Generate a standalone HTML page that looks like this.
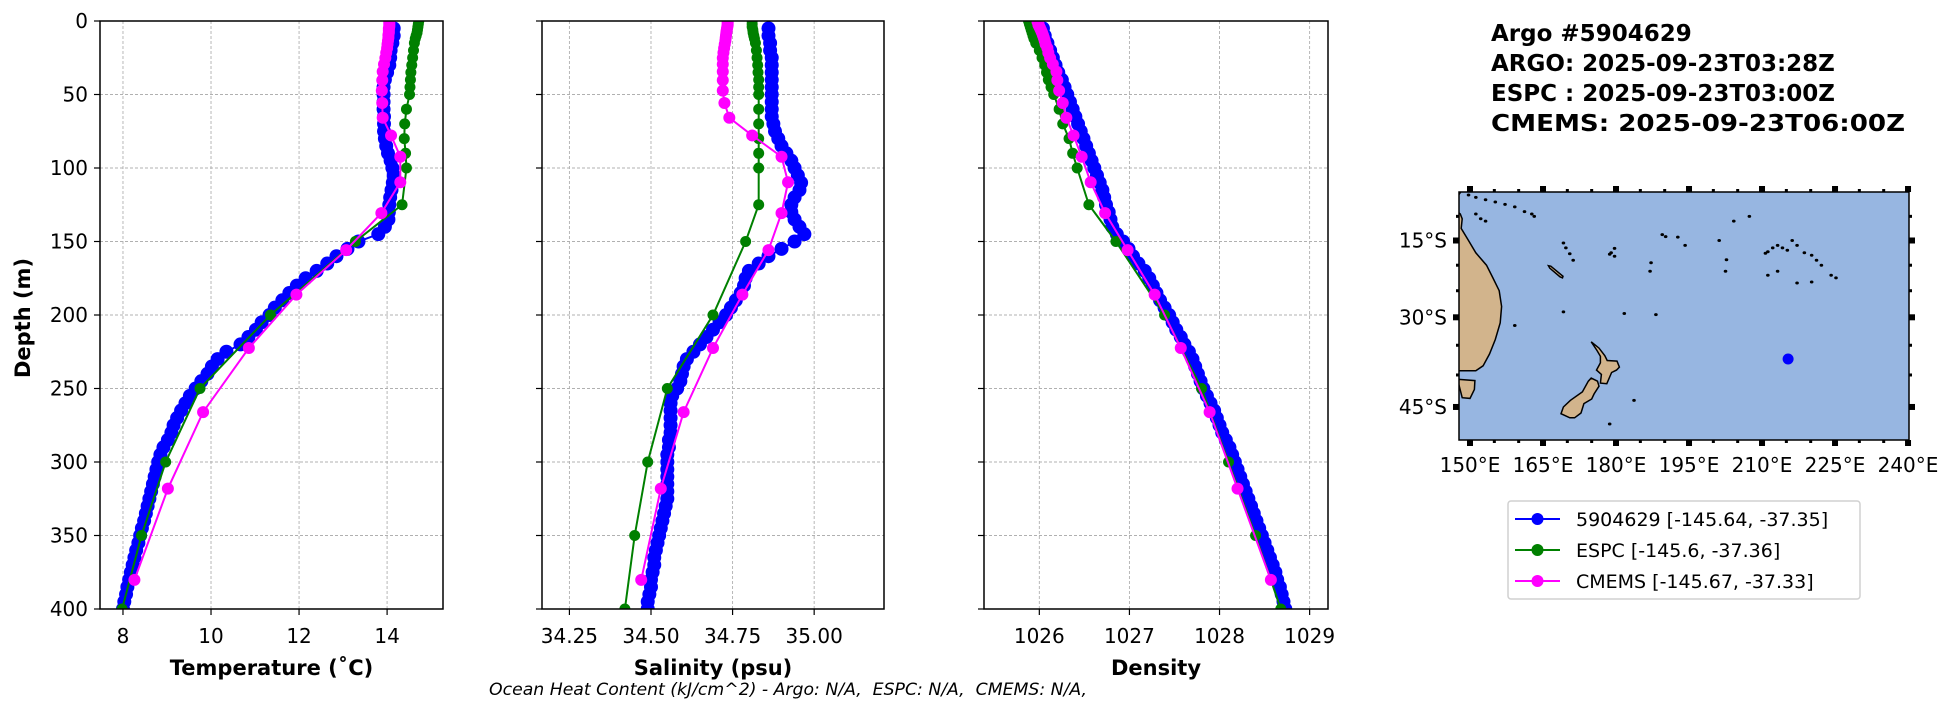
<!DOCTYPE html>
<html><head><meta charset="utf-8"><style>
html,body{margin:0;padding:0;background:#fff;}
svg{display:block;font-family:"DejaVu Sans","Liberation Sans",sans-serif;}
</style></head><body>
<svg id="fig" width="1954" height="712" viewBox="0 0 1954 712" xmlns="http://www.w3.org/2000/svg">
<g id="title" font-weight="bold" font-size="23" fill="#000">
<text x="1491" y="41">Argo #5904629</text>
<text x="1491" y="71">ARGO: 2025-09-23T03:28Z</text>
<text x="1491" y="101">ESPC : 2025-09-23T03:00Z</text>
<text x="1491" y="131" textLength="414" lengthAdjust="spacingAndGlyphs">CMEMS: 2025-09-23T06:00Z</text>
</g>
<text x="489" y="695" xml:space="preserve" font-style="italic" font-size="17" textLength="598" lengthAdjust="spacingAndGlyphs">Ocean Heat Content (kJ/cm^2) - Argo: N/A,  ESPC: N/A,  CMEMS: N/A,</text>
</svg>
<script>
const depthTicks=[0,50,100,150,200,250,300,350,400];
const tempTicks=[8,10,12,14];
const tempTickLabels=["8","10","12","14"];
const salTicks=[34.25,34.5,34.75,35.0];
const salTickLabels=["34.25","34.50","34.75","35.00"];
const densTicks=[1026,1027,1028,1029];
const densTickLabels=["1026","1027","1028","1029"];

const argoDepth=[5,10,15,20,25,30,35,40,45,50,55,60,65,70,75,80,85,90,95,100,105,110,115,120,125,130,135,140,145,150,155,160,165,170,175,180,185,190,195,200,205,210,215,220,225,230,235,240,245,250,255,260,265,270,275,280,285,290,295,300,305,310,315,320,325,330,335,340,345,350,355,360,365,370,375,380,385,390,395,400];
const argoTemp=[14.15,14.15,14.12,14.08,14.07,14.05,14.0,13.95,13.92,13.92,13.92,13.92,13.93,13.93,13.93,13.95,13.98,14.02,14.08,14.12,14.15,14.13,14.1,14.07,14.05,14.04,14.03,13.95,13.8,13.35,13.1,12.85,12.64,12.4,12.15,11.95,11.78,11.62,11.45,11.33,11.15,11.02,10.85,10.67,10.35,10.15,10.02,9.92,9.78,9.65,9.52,9.42,9.32,9.23,9.15,9.1,9.02,8.92,8.85,8.8,8.76,8.72,8.68,8.64,8.6,8.56,8.52,8.48,8.43,8.39,8.35,8.3,8.26,8.22,8.18,8.14,8.1,8.07,8.03,8.0];
const argoSal=[34.86,34.86,34.865,34.865,34.87,34.87,34.87,34.87,34.87,34.87,34.87,34.87,34.87,34.875,34.88,34.89,34.9,34.915,34.93,34.94,34.95,34.96,34.955,34.94,34.93,34.93,34.94,34.955,34.97,34.94,34.9,34.86,34.83,34.8,34.79,34.785,34.775,34.76,34.745,34.73,34.71,34.69,34.67,34.65,34.63,34.61,34.6,34.595,34.59,34.58,34.565,34.56,34.56,34.56,34.56,34.56,34.555,34.555,34.55,34.55,34.55,34.55,34.55,34.55,34.55,34.545,34.54,34.535,34.53,34.525,34.52,34.515,34.51,34.51,34.505,34.5,34.5,34.495,34.49,34.49];
const argoDens=[1026.04,1026.06,1026.09,1026.12,1026.15,1026.18,1026.21,1026.25,1026.28,1026.31,1026.34,1026.37,1026.40,1026.43,1026.46,1026.49,1026.52,1026.55,1026.58,1026.61,1026.64,1026.67,1026.70,1026.72,1026.74,1026.77,1026.79,1026.81,1026.86,1026.93,1026.99,1027.04,1027.1,1027.17,1027.22,1027.26,1027.3,1027.34,1027.39,1027.44,1027.48,1027.52,1027.57,1027.61,1027.66,1027.7,1027.73,1027.76,1027.79,1027.82,1027.86,1027.9,1027.94,1027.97,1028.0,1028.03,1028.07,1028.11,1028.14,1028.17,1028.2,1028.23,1028.26,1028.29,1028.32,1028.35,1028.38,1028.41,1028.44,1028.47,1028.5,1028.53,1028.56,1028.59,1028.62,1028.64,1028.67,1028.69,1028.71,1028.73];

const espcDepth=[0,2,4,6,8,10,12,15,20,25,30,35,40,45,50,60,70,80,90,100,125,150,200,250,300,350,400];
const espcTemp=[14.72,14.71,14.70,14.69,14.68,14.66,14.64,14.62,14.6,14.58,14.56,14.54,14.53,14.52,14.51,14.44,14.40,14.39,14.42,14.44,14.34,13.28,11.35,9.75,8.97,8.42,7.98];
const espcSal=[34.81,34.81,34.81,34.812,34.813,34.815,34.817,34.82,34.823,34.825,34.827,34.828,34.83,34.83,34.83,34.83,34.83,34.83,34.83,34.83,34.83,34.79,34.69,34.55,34.49,34.45,34.42];
const espcDens=[1025.88,1025.89,1025.90,1025.91,1025.92,1025.93,1025.94,1025.96,1026.0,1026.03,1026.06,1026.08,1026.10,1026.13,1026.16,1026.22,1026.26,1026.33,1026.37,1026.42,1026.55,1026.85,1027.39,1027.80,1028.10,1028.40,1028.68];

const cmemsDepth=[0.49,1.54,2.65,3.82,5.08,6.44,7.93,9.57,11.4,13.47,15.81,18.5,21.6,25.21,29.44,34.43,40.34,47.37,55.76,65.81,77.85,92.33,109.7,130.67,155.85,186.13,222.48,266.04,318.13,380.21];
const cmemsTemp=[14.05,14.05,14.05,14.05,14.04,14.04,14.04,14.03,14.03,14.02,14.01,14.0,13.98,13.96,13.93,13.9,13.89,13.88,13.89,13.9,14.09,14.3,14.3,13.87,13.07,11.94,10.86,9.82,9.02,8.26];
const cmemsSal=[34.735,34.735,34.735,34.734,34.733,34.732,34.731,34.73,34.729,34.728,34.726,34.724,34.722,34.72,34.72,34.72,34.72,34.72,34.725,34.74,34.81,34.90,34.92,34.90,34.86,34.78,34.69,34.60,34.53,34.47];
const cmemsDens=[1025.98,1025.99,1025.99,1026.0,1026.01,1026.02,1026.03,1026.04,1026.05,1026.06,1026.07,1026.09,1026.1,1026.12,1026.15,1026.19,1026.2,1026.22,1026.26,1026.3,1026.38,1026.47,1026.57,1026.73,1026.98,1027.28,1027.57,1027.89,1028.20,1028.57];

const legendLabels=["5904629 [-145.64, -37.35]","ESPC [-145.6, -37.36]","CMEMS [-145.67, -37.33]"];
const floatLon=[214.36];
const floatLat=[-37.35];
const mapLonTicks=[150,165,180,195,210,225,240];
const mapLatTicks=[-15,-30,-45];

const NS="http://www.w3.org/2000/svg";
const svg=document.getElementById('fig');
function mk(tag,attrs,parent){const e=document.createElementNS(NS,tag);for(const k in attrs)e.setAttribute(k,attrs[k]);(parent||svg).appendChild(e);return e;}

const TOP=21,BOT=609;
function yDepth(d){return TOP+(d/400)*(BOT-TOP);}

const panels=[
 {name:'temperature',x0:100,x1:443,min:7.478,max:15.27,ticks:tempTicks,labels:tempTickLabels,title:'Temperature (˚C)',series:[argoTemp,espcTemp,cmemsTemp],yl:true},
 {name:'salinity',x0:542,x1:884,min:34.166,max:35.214,ticks:salTicks,labels:salTickLabels,title:'Salinity (psu)',series:[argoSal,espcSal,cmemsSal],yl:false},
 {name:'density',x0:984,x1:1328,min:1025.386,max:1029.204,ticks:densTicks,labels:densTickLabels,title:'Density',series:[argoDens,espcDens,cmemsDens],yl:false}
];
const depths=[argoDepth,espcDepth,cmemsDepth];
const colors=['#0000ff','#008000','#ff00ff'];
const radii=[7,5.5,6];
const snames=['argo','espc','cmems'];

panels.forEach(p=>{
  const g=mk('g',{});
  
  
  const xs=v=>p.x0+(v-p.min)/(p.max-p.min)*(p.x1-p.x0);
  const cid='clip-'+p.name;
  const cp=mk('clipPath',{id:cid},g);mk('rect',{x:p.x0,y:TOP,width:p.x1-p.x0,height:BOT-TOP},cp);
  depthTicks.forEach(d=>{const l=mk('line',{x1:p.x0,x2:p.x1,y1:yDepth(d),y2:yDepth(d),stroke:'#b0b0b0','stroke-width':0.9,'stroke-dasharray':'3,2'},g);
    });
  p.ticks.forEach(t=>{const l=mk('line',{x1:xs(t),x2:xs(t),y1:TOP,y2:BOT,stroke:'#b0b0b0','stroke-width':0.9,'stroke-dasharray':'3,2'},g);
    });
  const sg=mk('g',{'clip-path':'url(#'+cid+')'},g);
  p.series.forEach((vals,si)=>{
    const pts=vals.map((v,i)=>xs(v).toFixed(2)+','+yDepth(depths[si][i]).toFixed(2)).join(' ');
    const pl=mk('polyline',{points:pts,fill:'none',stroke:colors[si],'stroke-width':2},sg);
    
    
    vals.forEach((v,i)=>{const c=mk('circle',{cx:xs(v),cy:yDepth(depths[si][i]),r:radii[si],fill:colors[si]},sg);
      
      });
  });
  const fr=mk('rect',{x:p.x0,y:TOP,width:p.x1-p.x0,height:BOT-TOP,fill:'none',stroke:'#000','stroke-width':1.5},g);
  
  p.ticks.forEach((t,i)=>{mk('line',{x1:xs(t),x2:xs(t),y1:BOT,y2:BOT+6,stroke:'#000','stroke-width':1.2},g);
    const tx=mk('text',{x:xs(t),y:643,'text-anchor':'middle','font-size':20},g);tx.textContent=p.labels[i];
    });
  depthTicks.forEach(d=>{mk('line',{x1:p.x0-6,x2:p.x0,y1:yDepth(d),y2:yDepth(d),stroke:'#000','stroke-width':1.2},g);
    if(p.yl){const tx=mk('text',{x:88,y:yDepth(d)+7,'text-anchor':'end','font-size':20},g);tx.textContent=String(d);
      }});
  const xt=mk('text',{x:(p.x0+p.x1)/2,y:675,'text-anchor':'middle','font-size':21,'font-weight':'bold'},g);xt.textContent=p.title;
  
});
const yt=mk('text',{x:0,y:0,'text-anchor':'middle','font-size':21,'font-weight':'bold',transform:'translate(30,318) rotate(-90)'});
yt.textContent='Depth (m)';



// ---- Map ----
const MX0=1459,MX1=1909,MY0=192,MY1=440;
const LANDSHIFT=2.2;
function merc(lat){const r=Math.abs(lat)*Math.PI/180;return Math.log(Math.tan(Math.PI/4+r/2));}
function mxp(lon){return 1470+(lon-150)*4.867;}
function myp(lat){return 240.5+(merc(lat)-merc(15))*270;}
function lx(lon){return mxp(lon+LANDSHIFT);}
const mg=mk('g',{});


const mcp=mk('clipPath',{id:'mapclip'},mg);mk('rect',{x:MX0,y:MY0,width:MX1-MX0,height:MY1-MY0},mcp);
mk('rect',{x:MX0,y:MY0,width:MX1-MX0,height:MY1-MY0,fill:'#97b6e1'},mg);
const land=mk('g',{'clip-path':'url(#mapclip)'},mg);
const shapes={
 'australia':[[138,-2],[145.3,-2],[146,-3.5],[145.8,-5],[144.8,-6.5],[144,-8],[145.8,-9.5],[146.2,-10.5],[146,-12.5],[147.5,-15],[149,-17.5],[151.2,-20],[152.5,-22.5],[153.8,-25],[154.3,-28],[154,-31],[153,-34],[151.8,-36.5],[150.5,-38.5],[149,-39.3],[138,-39.3]],
 'tasmania':[[145.5,-40.7],[148.8,-40.9],[148.7,-42.3],[147.8,-43.7],[146.2,-43.6],[145.5,-41.5]],
 'nz-north-island':[[172.7,-34.4],[174.3,-35.5],[175.5,-36.8],[176,-37.6],[178,-37.7],[178.5,-38.7],[177.9,-39.2],[176.9,-39.6],[175.9,-41.4],[174.6,-41.3],[174.8,-39.9],[173.8,-39.2],[174.6,-38.0],[174.6,-36.9],[173.9,-35.9]],
 'nz-south-island':[[172.7,-40.5],[174.0,-41.0],[174.3,-41.8],[173.3,-43],[172.8,-43.8],[171.2,-44.5],[170.6,-45.9],[169.3,-46.6],[168.3,-46.6],[166.5,-46],[167,-45],[168.4,-44],[170.9,-42.7],[172.1,-41]],
 'new-caledonia':[[163.9,-20.1],[164.4,-20.2],[166.9,-22.2],[166.8,-22.5],[166.3,-22.3],[164.2,-20.6]]
};
for(const k in shapes){const pts=shapes[k].map(q=>lx(q[0]).toFixed(1)+','+myp(q[1]).toFixed(1)).join(' ');
  const pg=mk('polygon',{points:pts,fill:'#d2b48c',stroke:'#000','stroke-width':1.5},land);
  }
const islands=[[146,-4.5],[147.5,-5.5],[149,-6],[151,-6.5],[153,-7],[155,-7.5],[157,-8],[159,-9],[161,-10],[160.5,-9.5],[149,-9.5],[150,-10.5],[151,-11],[167,-15.5],[167.5,-16.5],[168.3,-17.7],[169,-19],[176.5,-17.8],[177.5,-16.6],[176.8,-17.5],[177.5,-18.2],[184.8,-21.2],[185,-19.5],[187.3,-13.8],[188,-14.2],[190.5,-14.3],[192,-16],[199,-15],[200.5,-18.9],[200.3,-21.2],[202,-11],[205.2,-10],[208.5,-17.6],[209,-17.3],[210,-16.5],[211,-16],[212,-16.5],[213,-17],[214,-15],[215,-16],[216.5,-17.5],[218,-18],[219,-19],[220,-20],[222,-22],[223,-22.5],[218,-23.3],[215,-23.5],[211,-21.2],[209,-22],[186,-29.5],[179.5,-29.3],[157,-31.5],[167,-29],[181.5,-44],[176.5,-47.5]];
islands.forEach(q=>{const e=mk('ellipse',{cx:lx(q[0]),cy:myp(q[1]),rx:1.8,ry:1.5,fill:'#000'},land);
  });
floatLon.forEach((lon,i)=>{const c=mk('circle',{cx:mxp(lon+1),cy:myp(floatLat[i]),r:5.5,fill:'#0000ff'},mg);
  });
mk('rect',{x:MX0,y:MY0,width:MX1-MX0,height:MY1-MY0,fill:'none',stroke:'#000','stroke-width':1.5},mg);
for(let lon=150;lon<=240;lon+=5){const big=(lon%15===0);const s=big?6:3;
  mk('rect',{x:mxp(lon)-s/2,y:MY0-s,width:s,height:s,fill:'#000'},mg);
  mk('rect',{x:mxp(lon)-s/2,y:MY1,width:s,height:s,fill:'#000'},mg);}
for(let lat=-10;lat>=-45;lat-=5){const big=(lat%15===0);const s=big?6:3;
  mk('rect',{x:MX0-s,y:myp(lat)-s/2,width:s,height:s,fill:'#000'},mg);
  mk('rect',{x:MX1,y:myp(lat)-s/2,width:s,height:s,fill:'#000'},mg);}
mapLonTicks.forEach(lon=>{const t=mk('text',{x:mxp(lon),y:472,'text-anchor':'middle','font-size':20},mg);t.textContent=lon+'°E';
  });
mapLatTicks.forEach(lat=>{const t=mk('text',{x:1447,y:myp(lat)+7,'text-anchor':'end','font-size':20},mg);t.textContent=Math.abs(lat)+'°S';
  });

// ---- Legend ----
const lg=mk('g',{});


mk('rect',{x:1508,y:501,width:352,height:98,rx:3,fill:'#fff',stroke:'#d0d0d0','stroke-width':1.5},lg);
legendLabels.forEach((lab,i)=>{const y=519+i*31;
  const eg=mk('g',{},lg);
  
  
  mk('line',{x1:1515,x2:1560,y1:y,y2:y,stroke:colors[i],'stroke-width':2},eg);
  mk('circle',{cx:1537.5,cy:y,r:6,fill:colors[i]},eg);
  const t=mk('text',{x:1576,y:y+7,'font-size':19},eg);t.textContent=lab;});
</script>
</body></html>
